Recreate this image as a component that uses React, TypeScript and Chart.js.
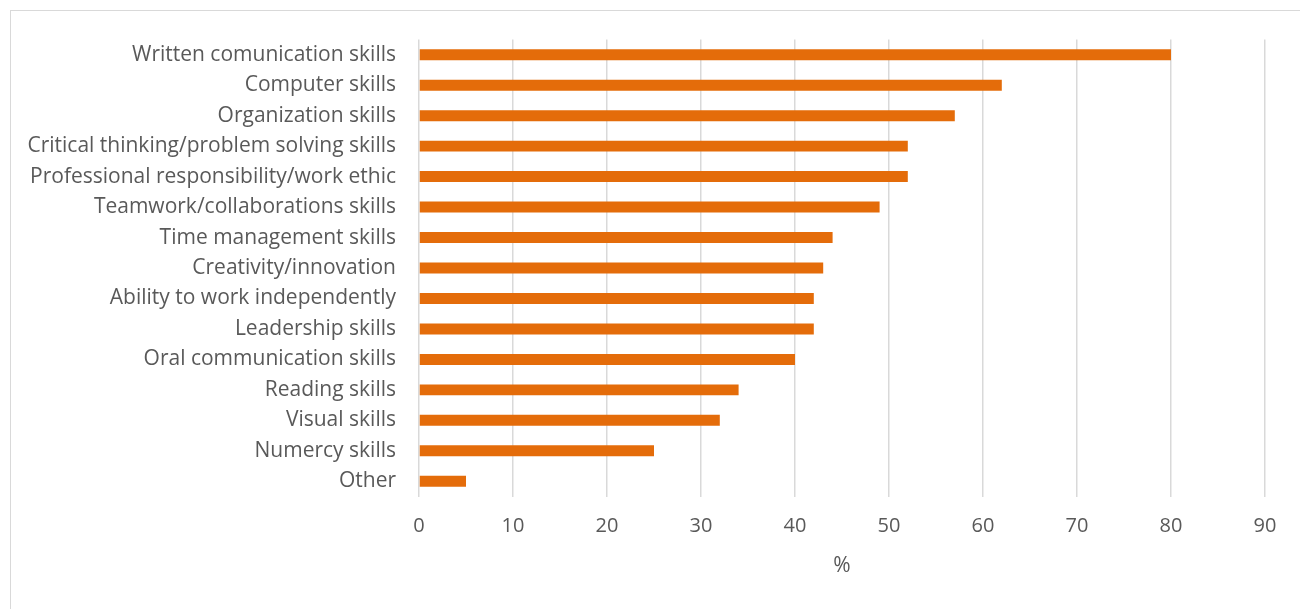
import React, { useEffect, useRef } from "react";
import { Chart, registerables } from "chart.js";

Chart.register(...registerables);

const categories = [
  "Written comunication skills",
  "Computer skills",
  "Organization skills",
  "Critical thinking/problem solving skills",
  "Professional responsibility/work ethic",
  "Teamwork/collaborations skills",
  "Time management skills",
  "Creativity/innovation",
  "Ability to work independently",
  "Leadership skills",
  "Oral communication skills",
  "Reading skills",
  "Visual skills",
  "Numercy skills",
  "Other",
];
const values = [80, 62, 57, 52, 52, 49, 44, 43, 42, 42, 40, 34, 32, 25, 5];
const xMin = 0;
const xMax = 90;
const xStep = 10;
const xTitle = "%";

export default function App() {
  const ref = useRef<HTMLCanvasElement | null>(null);
  useEffect(() => {
    if (!ref.current) return;
    const fam = "'Open Sans', 'Noto Sans', sans-serif";
    const chart = new Chart(ref.current, {
      type: "bar",
      data: {
        labels: categories,
        datasets: [
          {
            data: values,
            backgroundColor: "#E46C0A",
            borderWidth: 0,
            categoryPercentage: 1,
            barPercentage: 0.36,
          },
        ],
      },
      options: {
        indexAxis: "y",
        animation: false,
        responsive: false,
        layout: { padding: { top: 28.5, right: 41, left: 0, bottom: 32.5 } },
        plugins: { legend: { display: false }, tooltip: { enabled: false } },
        scales: {
          x: {
            min: xMin,
            max: xMax,
            ticks: { stepSize: xStep, color: "#595959", font: { family: fam, size: 20 }, padding: 18 },
            grid: { color: "#d9d9d9", lineWidth: 1.5, drawTicks: false },
            border: { display: false },
            title: {
              display: true,
              text: xTitle,
              color: "#595959",
              font: { family: fam, size: 21 },
              padding: { top: 10, bottom: 0 },
            },
            afterFit: (s: any) => {
              s.height = 82;
            },
          },
          y: {
            ticks: { color: "#595959", font: { family: fam, size: 21 }, padding: 23 },
            grid: { display: false, drawTicks: false },
            border: { display: false },
            afterFit: (s: any) => {
              s.width = 408;
              s.paddingTop = 0;
              s.paddingBottom = 0;
            },
          },
        },
      },
    });
    return () => chart.destroy();
  }, []);
  return (
    <div
      style={{
        marginLeft: 2,
        marginTop: 2,
        width: 1295,
        height: 600,
        border: "1.5px solid #d9d9d9",
        background: "#fff",
      }}
    >
      <canvas ref={ref} width={1295} height={600} style={{ display: "block" }} />
    </div>
  );
}
